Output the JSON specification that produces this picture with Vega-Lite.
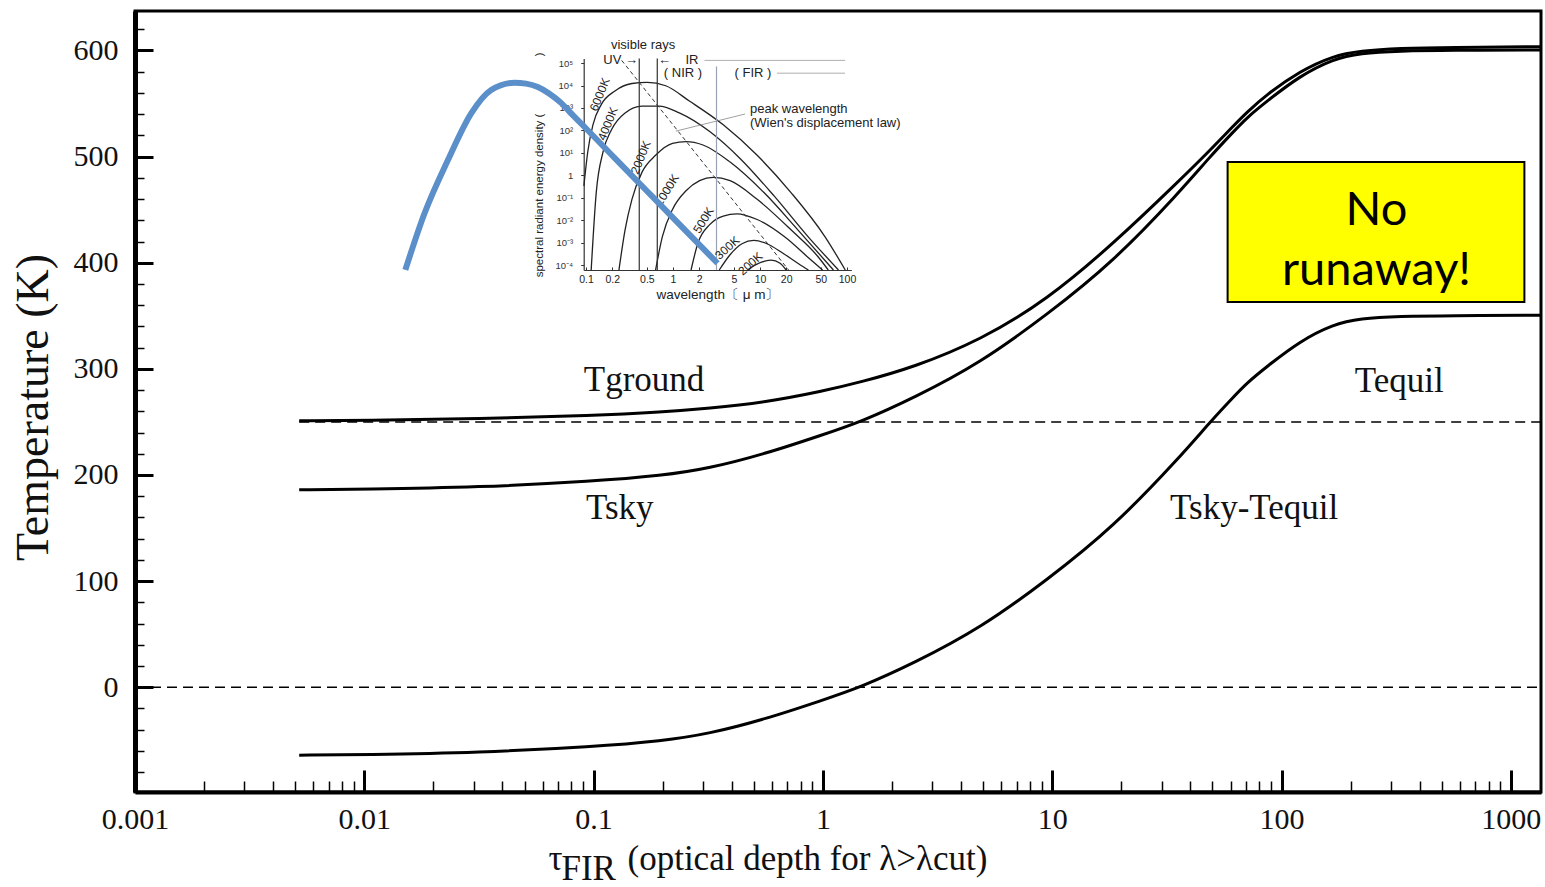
{
  "$schema": "https://vega.github.io/schema/vega-lite/v6.json",
  "width": 1406,
  "height": 781,
  "autosize": {"type": "none"},
  "padding": {"left": 135, "top": 11, "right": 4, "bottom": 95},
  "background": "white",
  "config": {"view": {"stroke": "#000", "strokeWidth": 3}, "axis": {"grid": false}},
  "resolve": {"scale": {"x": "independent", "y": "independent"}, "axis": {"x": "independent", "y": "independent"}},
  "layer": [
    {
      "resolve": {"axis": {"x": "independent", "y": "independent"}},
      "layer": [
        {
          "data": {"values": [
            {"curve":"6000K","lam":0.0945,"v":-0.47},{"curve":"6000K","lam":0.1047,"v":1.05},{"curve":"6000K","lam":0.12,"v":2.25},{"curve":"6000K","lam":0.15,"v":3.16},{"curve":"6000K","lam":0.215,"v":3.76},{"curve":"6000K","lam":0.337,"v":4.09},{"curve":"6000K","lam":0.504,"v":4.14},{"curve":"6000K","lam":0.824,"v":3.99},{"curve":"6000K","lam":1.54,"v":3.31},{"curve":"6000K","lam":3.78,"v":2.25},{"curve":"6000K","lam":9.27,"v":0.89},{"curve":"6000K","lam":22.7,"v":-0.77},{"curve":"6000K","lam":55.7,"v":-2.73},{"curve":"6000K","lam":95.5,"v":-4.22},
            {"curve":"4000K","lam":0.1146,"v":-4.22},{"curve":"4000K","lam":0.131,"v":-0.77},{"curve":"4000K","lam":0.157,"v":1.05},{"curve":"4000K","lam":0.196,"v":2.03},{"curve":"4000K","lam":0.281,"v":2.78},{"curve":"4000K","lam":0.44,"v":3.08},{"curve":"4000K","lam":0.689,"v":3.08},{"curve":"4000K","lam":1.18,"v":2.78},{"curve":"4000K","lam":2.64,"v":1.95},{"curve":"4000K","lam":5.93,"v":0.74},{"curve":"4000K","lam":14.5,"v":-0.92},{"curve":"4000K","lam":35.6,"v":-2.73},{"curve":"4000K","lam":79.8,"v":-4.22},
            {"curve":"2000K","lam":0.239,"v":-4.22},{"curve":"2000K","lam":0.281,"v":-2.43},{"curve":"2000K","lam":0.337,"v":-1.07},{"curve":"2000K","lam":0.44,"v":0.14},{"curve":"2000K","lam":0.63,"v":0.89},{"curve":"2000K","lam":0.986,"v":1.42},{"curve":"2000K","lam":1.41,"v":1.5},{"curve":"2000K","lam":2.21,"v":1.35},{"curve":"2000K","lam":4.53,"v":0.59},{"curve":"2000K","lam":11.1,"v":-0.77},{"curve":"2000K","lam":27.2,"v":-2.43},{"curve":"2000K","lam":69.8,"v":-4.22},
            {"curve":"1000K","lam":0.63,"v":-4.22},{"curve":"1000K","lam":0.754,"v":-2.73},{"curve":"1000K","lam":0.986,"v":-1.52},{"curve":"1000K","lam":1.41,"v":-0.69},{"curve":"1000K","lam":2.02,"v":-0.24},{"curve":"1000K","lam":2.89,"v":-0.09},{"curve":"1000K","lam":4.53,"v":-0.24},{"curve":"1000K","lam":9.27,"v":-1.07},{"curve":"1000K","lam":22.7,"v":-2.43},{"curve":"1000K","lam":46.7,"v":-3.64},{"curve":"1000K","lam":60.9,"v":-4.22},
            {"curve":"500K","lam":1.61,"v":-4.22},{"curve":"500K","lam":1.93,"v":-3.03},{"curve":"500K","lam":2.64,"v":-2.2},{"curve":"500K","lam":3.78,"v":-1.82},{"curve":"500K","lam":5.42,"v":-1.72},{"curve":"500K","lam":9.27,"v":-1.97},{"curve":"500K","lam":19,"v":-2.73},{"curve":"500K","lam":38.9,"v":-3.79},{"curve":"500K","lam":52.4,"v":-4.22},
            {"curve":"300K","lam":3.4,"v":-4.22},{"curve":"300K","lam":4.5,"v":-3.55},{"curve":"300K","lam":6.2,"v":-3.05},{"curve":"300K","lam":8.5,"v":-2.9},{"curve":"300K","lam":12,"v":-3.05},{"curve":"300K","lam":18,"v":-3.45},{"curve":"300K","lam":28,"v":-3.95},{"curve":"300K","lam":36,"v":-4.22},
            {"curve":"200K","lam":7.2,"v":-4.22},{"curve":"200K","lam":9,"v":-3.98},{"curve":"200K","lam":13.4,"v":-3.78},{"curve":"200K","lam":17,"v":-3.92},{"curve":"200K","lam":20,"v":-4.22}
          ]},
          "mark": {"type": "line", "color": "#222", "strokeWidth": 1.3, "interpolate": "monotone"},
          "encoding": {
            "x": {"field": "lam", "type": "quantitative",
              "scale": {"type": "log", "domain": [0.094, 112], "range": [448.7, 716.3], "nice": false},
              "axis": {"orient": "bottom", "offset": -522, "values": [0.1,0.2,0.5,1,2,5,10,20,50,100], "format": "~g",
                "labelFont": "Liberation Sans", "labelFontSize": 10.5, "labelColor": "#222", "labelPadding": 7,
                "labelFlush": false, "labelOverlap": false, "tickSize": -3, "tickColor": "#333", "tickWidth": 1,
                "domainColor": "#333", "domainWidth": 1.2, "grid": false,
                "title": "wavelength〔 μ m〕", "titleFont": "Liberation Sans", "titleFontSize": 13.5, "titleFontWeight": "normal",
                "titleColor": "#222", "titlePadding": 3}},
            "y": {"field": "v", "type": "quantitative",
              "scale": {"domain": [-4.22, 5.2], "range": [259, 47.6], "nice": false, "zero": false},
              "axis": {"orient": "left", "offset": -448.7, "values": [-4,-3,-2,-1,0,1,2,3,4,5],
                "labelExpr": "datum.value == 0 ? '1' : '10' + (datum.value < 0 ? '⁻' : '') + ['⁰','¹','²','³','⁴','⁵'][abs(datum.value)]",
                "labelFont": "Liberation Sans", "labelFontSize": 9.5, "labelColor": "#333", "labelPadding": 8,
                "labelFlush": false, "labelOverlap": false, "tickSize": 3, "tickColor": "#333", "tickWidth": 1,
                "domainColor": "#333", "domainWidth": 1.2, "grid": false,
                "title": "spectral radiant energy density  (\u00a0\u00a0\u00a0\u00a0\u00a0\u00a0\u00a0\u00a0\u00a0\u00a0\u00a0\u00a0\u00a0\u00a0\u00a0\u00a0\u00a0\u00a0)", "titleFont": "Liberation Sans", "titleFontSize": 11.5,
                "titleFontWeight": "normal", "titleColor": "#222", "titlePadding": 11}},
            "detail": {"field": "curve"}
          }
        },
        {
          "data": {"values": [{"lam": 0.257, "v": 5.12}, {"lam": 21.3, "v": -4.22}]},
          "mark": {"type": "line", "color": "#333", "strokeWidth": 1, "strokeDash": [4, 3]},
          "encoding": {
            "x": {"field": "lam", "type": "quantitative", "scale": {"type": "log", "domain": [0.094, 112], "range": [448.7, 716.3], "nice": false}, "axis": null},
            "y": {"field": "v", "type": "quantitative", "scale": {"domain": [-4.22, 5.2], "range": [259, 47.6], "nice": false, "zero": false}, "axis": null}
          }
        },
        {
          "data": {"values": [{"lam": 0.409, "top": 5.2, "bot": -4.22}, {"lam": 0.659, "top": 5.2, "bot": -4.22}]},
          "mark": {"type": "rule", "color": "#333", "strokeWidth": 1.2},
          "encoding": {
            "x": {"field": "lam", "type": "quantitative", "scale": {"type": "log", "domain": [0.094, 112], "range": [448.7, 716.3], "nice": false}, "axis": null},
            "y": {"field": "top", "type": "quantitative", "scale": {"domain": [-4.22, 5.2], "range": [259, 47.6], "nice": false, "zero": false}, "axis": null},
            "y2": {"field": "bot"}
          }
        },
        {
          "data": {"values": [{"lam": 3.16, "top": 4.85, "bot": -4.22}]},
          "mark": {"type": "rule", "color": "#9aa3b5", "strokeWidth": 1.2},
          "encoding": {
            "x": {"field": "lam", "type": "quantitative", "scale": {"type": "log", "domain": [0.094, 112], "range": [448.7, 716.3], "nice": false}, "axis": null},
            "y": {"field": "top", "type": "quantitative", "scale": {"domain": [-4.22, 5.2], "range": [259, 47.6], "nice": false, "zero": false}, "axis": null},
            "y2": {"field": "bot"}
          }
        },
        {
          "data": {"values": [{"from": 2.3, "to": 95, "v": 5.12}, {"from": 15.7, "to": 95, "v": 4.55}]},
          "mark": {"type": "rule", "color": "#999", "strokeWidth": 0.8},
          "encoding": {
            "x": {"field": "from", "type": "quantitative", "scale": {"type": "log", "domain": [0.094, 112], "range": [448.7, 716.3], "nice": false}, "axis": null},
            "x2": {"field": "to"},
            "y": {"field": "v", "type": "quantitative", "scale": {"domain": [-4.22, 5.2], "range": [259, 47.6], "nice": false, "zero": false}, "axis": null}
          }
        },
        {
          "data": {"values": [{"x1": 6.73, "v1": 2.73, "x2": 1.08, "v2": 1.97}]},
          "mark": {"type": "rule", "color": "#888", "strokeWidth": 0.8},
          "encoding": {
            "x": {"field": "x1", "type": "quantitative", "scale": {"type": "log", "domain": [0.094, 112], "range": [448.7, 716.3], "nice": false}, "axis": null},
            "x2": {"field": "x2"},
            "y": {"field": "v1", "type": "quantitative", "scale": {"domain": [-4.22, 5.2], "range": [259, 47.6], "nice": false, "zero": false}, "axis": null},
            "y2": {"field": "v2"}
          }
        },
        {
          "data": {"values": [{"t": "visible rays", "lam": 0.452, "v": 5.8}, {"t": "IR", "lam": 1.65, "v": 5.13}, {"t": "( NIR )", "lam": 1.3, "v": 4.55}, {"t": "( FIR )", "lam": 8.3, "v": 4.55}]},
          "mark": {"type": "text", "font": "Liberation Sans", "fontSize": 13, "color": "#222", "align": "center", "baseline": "middle"},
          "encoding": {
            "x": {"field": "lam", "type": "quantitative", "scale": {"type": "log", "domain": [0.094, 112], "range": [448.7, 716.3], "nice": false}, "axis": null},
            "y": {"field": "v", "type": "quantitative", "scale": {"domain": [-4.22, 5.2], "range": [259, 47.6], "nice": false, "zero": false}, "axis": null},
            "text": {"field": "t"}
          }
        },
        {
          "data": {"values": [{"t": "UV →", "lam": 0.395, "v": 5.13}]},
          "mark": {"type": "text", "font": "Liberation Sans", "fontSize": 13, "color": "#222", "align": "right", "baseline": "middle"},
          "encoding": {
            "x": {"field": "lam", "type": "quantitative", "scale": {"type": "log", "domain": [0.094, 112], "range": [448.7, 716.3], "nice": false}, "axis": null},
            "y": {"field": "v", "type": "quantitative", "scale": {"domain": [-4.22, 5.2], "range": [259, 47.6], "nice": false, "zero": false}, "axis": null},
            "text": {"field": "t"}
          }
        },
        {
          "data": {"values": [{"t": "←", "lam": 0.67, "v": 5.13}, {"t": "peak wavelength", "lam": 7.67, "v": 2.97}, {"t": "(Wien's displacement law)", "lam": 7.67, "v": 2.33}]},
          "mark": {"type": "text", "font": "Liberation Sans", "fontSize": 13, "color": "#222", "align": "left", "baseline": "middle"},
          "encoding": {
            "x": {"field": "lam", "type": "quantitative", "scale": {"type": "log", "domain": [0.094, 112], "range": [448.7, 716.3], "nice": false}, "axis": null},
            "y": {"field": "v", "type": "quantitative", "scale": {"domain": [-4.22, 5.2], "range": [259, 47.6], "nice": false, "zero": false}, "axis": null},
            "text": {"field": "t"}
          }
        },
        {
          "data": {"values": [{"t": "6000K", "lam": 0.144, "v": 3.6}, {"t": "4000K", "lam": 0.178, "v": 2.3}, {"t": "2000K", "lam": 0.425, "v": 0.8}]},
          "mark": {"type": "text", "font": "Liberation Sans", "fontSize": 12, "color": "#222", "align": "center", "baseline": "middle", "angle": -68},
          "encoding": {
            "x": {"field": "lam", "type": "quantitative", "scale": {"type": "log", "domain": [0.094, 112], "range": [448.7, 716.3], "nice": false}, "axis": null},
            "y": {"field": "v", "type": "quantitative", "scale": {"domain": [-4.22, 5.2], "range": [259, 47.6], "nice": false, "zero": false}, "axis": null},
            "text": {"field": "t"}
          }
        },
        {
          "data": {"values": [{"t": "1000K", "lam": 0.85, "v": -0.66}, {"t": "500K", "lam": 2.24, "v": -2.0}]},
          "mark": {"type": "text", "font": "Liberation Sans", "fontSize": 12, "color": "#222", "align": "center", "baseline": "middle", "angle": -58},
          "encoding": {
            "x": {"field": "lam", "type": "quantitative", "scale": {"type": "log", "domain": [0.094, 112], "range": [448.7, 716.3], "nice": false}, "axis": null},
            "y": {"field": "v", "type": "quantitative", "scale": {"domain": [-4.22, 5.2], "range": [259, 47.6], "nice": false, "zero": false}, "axis": null},
            "text": {"field": "t"}
          }
        },
        {
          "data": {"values": [{"t": "300K", "lam": 4.21, "v": -3.23}, {"t": "200K", "lam": 7.76, "v": -3.94}]},
          "mark": {"type": "text", "font": "Liberation Sans", "fontSize": 12, "color": "#222", "align": "center", "baseline": "middle", "angle": -42},
          "encoding": {
            "x": {"field": "lam", "type": "quantitative", "scale": {"type": "log", "domain": [0.094, 112], "range": [448.7, 716.3], "nice": false}, "axis": null},
            "y": {"field": "v", "type": "quantitative", "scale": {"domain": [-4.22, 5.2], "range": [259, 47.6], "nice": false, "zero": false}, "axis": null},
            "text": {"field": "t"}
          }
        }
      ]
    },
    {
      "resolve": {"axis": {"x": "independent", "y": "independent"}},
      "layer": [
        {
          "data": {"values": [{"x1": 0.0052, "x2": 1354, "T": 250}, {"x1": 0.001, "x2": 1354, "T": 0}]},
          "mark": {"type": "rule", "color": "#000", "strokeWidth": 1.6, "strokeDash": [10, 6]},
          "encoding": {
            "x": {"field": "x1", "type": "quantitative",
              "scale": {"type": "log", "domain": [0.001, 1354], "nice": false},
              "axis": {"orient": "bottom", "values": [0.002,0.003,0.004,0.005,0.006,0.007,0.008,0.009,0.02,0.03,0.04,0.05,0.06,0.07,0.08,0.09,0.2,0.3,0.4,0.5,0.6,0.7,0.8,0.9,2,3,4,5,6,7,8,9,20,30,40,50,60,70,80,90,200,300,400,500,600,700,800,900],
                "labels": false, "domain": false, "grid": false, "tickSize": -11, "tickWidth": 1.5, "tickColor": "#000",
                "title": "τ", "titleFont": "Liberation Serif", "titleFontSize": 35, "titleFontWeight": "normal", "titleColor": "#111",
                "titleX": 413, "titleY": 77, "titleAlign": "left", "titleBaseline": "alphabetic"}},
            "x2": {"field": "x2"},
            "y": {"field": "T", "type": "quantitative",
              "scale": {"domain": [-98.7, 637.2], "nice": false, "zero": false},
              "axis": {"orient": "left", "values": [-80,-60,-40,-20,20,40,60,80,120,140,160,180,220,240,260,280,320,340,360,380,420,440,460,480,520,540,560,580,620],
                "labels": false, "domain": false, "grid": false, "tickSize": -9, "tickWidth": 1.5, "tickColor": "#000", "title": null}}
          }
        },
        {
          "data": {"values": [
            {"series":"Tground","tau":0.0052,"T":251},{"series":"Tground","tau":0.01,"T":251.5},{"series":"Tground","tau":0.0316,"T":252.8},{"series":"Tground","tau":0.1,"T":256},{"series":"Tground","tau":0.2,"T":259.5},{"series":"Tground","tau":0.316,"T":262.8},{"series":"Tground","tau":0.562,"T":268.5},{"series":"Tground","tau":1.0,"T":279},{"series":"Tground","tau":1.46,"T":287.5},{"series":"Tground","tau":2.49,"T":301.5},{"series":"Tground","tau":4.86,"T":327},{"series":"Tground","tau":9.49,"T":365},{"series":"Tground","tau":18.5,"T":418},{"series":"Tground","tau":36.1,"T":478},{"series":"Tground","tau":48.8,"T":506},{"series":"Tground","tau":61.4,"T":528.5},{"series":"Tground","tau":70.4,"T":541.5},{"series":"Tground","tau":86.1,"T":558.5},{"series":"Tground","tau":120,"T":580.5},{"series":"Tground","tau":168,"T":595},{"series":"Tground","tau":220,"T":599.5},{"series":"Tground","tau":328,"T":602},{"series":"Tground","tau":542,"T":603},{"series":"Tground","tau":1354,"T":603.5},
            {"series":"Tsky","tau":0.0052,"T":186},{"series":"Tsky","tau":0.01,"T":186.5},{"series":"Tsky","tau":0.0316,"T":188.5},{"series":"Tsky","tau":0.1,"T":194},{"series":"Tsky","tau":0.2,"T":199.5},{"series":"Tsky","tau":0.316,"T":206},{"series":"Tsky","tau":0.562,"T":220},{"series":"Tsky","tau":1.0,"T":238},{"series":"Tsky","tau":1.46,"T":250},{"series":"Tsky","tau":2.49,"T":272.6},{"series":"Tsky","tau":4.86,"T":305.6},{"series":"Tsky","tau":9.49,"T":351},{"series":"Tsky","tau":18.5,"T":401},{"series":"Tsky","tau":36.1,"T":467},{"series":"Tsky","tau":48.8,"T":500},{"series":"Tsky","tau":61.4,"T":523},{"series":"Tsky","tau":70.4,"T":536.5},{"series":"Tsky","tau":86.1,"T":552},{"series":"Tsky","tau":120,"T":576},{"series":"Tsky","tau":168,"T":592},{"series":"Tsky","tau":220,"T":597.5},{"series":"Tsky","tau":328,"T":599.5},{"series":"Tsky","tau":542,"T":600.2},{"series":"Tsky","tau":1354,"T":600.5},
            {"series":"Tsky-Tequil","tau":0.0052,"T":-64},{"series":"Tsky-Tequil","tau":0.01,"T":-63.5},{"series":"Tsky-Tequil","tau":0.0316,"T":-61.5},{"series":"Tsky-Tequil","tau":0.1,"T":-56},{"series":"Tsky-Tequil","tau":0.2,"T":-50.5},{"series":"Tsky-Tequil","tau":0.316,"T":-44},{"series":"Tsky-Tequil","tau":0.562,"T":-30},{"series":"Tsky-Tequil","tau":1.0,"T":-12},{"series":"Tsky-Tequil","tau":1.46,"T":0},{"series":"Tsky-Tequil","tau":2.49,"T":22.6},{"series":"Tsky-Tequil","tau":4.86,"T":55.6},{"series":"Tsky-Tequil","tau":9.49,"T":101},{"series":"Tsky-Tequil","tau":18.5,"T":151},{"series":"Tsky-Tequil","tau":36.1,"T":217},{"series":"Tsky-Tequil","tau":48.8,"T":250},{"series":"Tsky-Tequil","tau":61.4,"T":273},{"series":"Tsky-Tequil","tau":70.4,"T":286.5},{"series":"Tsky-Tequil","tau":86.1,"T":302},{"series":"Tsky-Tequil","tau":120,"T":326},{"series":"Tsky-Tequil","tau":168,"T":342},{"series":"Tsky-Tequil","tau":220,"T":347.5},{"series":"Tsky-Tequil","tau":328,"T":349.5},{"series":"Tsky-Tequil","tau":542,"T":350.2},{"series":"Tsky-Tequil","tau":1354,"T":350.5}
          ]},
          "mark": {"type": "line", "color": "#000", "strokeWidth": 3, "interpolate": "basis"},
          "encoding": {
            "x": {"field": "tau", "type": "quantitative",
              "scale": {"type": "log", "domain": [0.001, 1354], "nice": false},
              "axis": {"orient": "bottom", "values": [0.001, 0.01, 0.1, 1, 10, 100, 1000], "format": "~g",
                "labelFont": "Liberation Serif", "labelFontSize": 30, "labelColor": "#111", "labelPadding": 34,
                "labelFlush": false, "labelOverlap": false, "labelBound": false,
                "tickSize": -22, "tickWidth": 3, "tickColor": "#000", "domainColor": "#000", "domainWidth": 4, "grid": false,
                "title": "(optical depth for λ>λcut)", "titleFont": "Liberation Serif", "titleFontSize": 35, "titleFontWeight": "normal",
                "titleColor": "#111", "titleX": 492, "titleY": 77, "titleAlign": "left", "titleBaseline": "alphabetic"}},
            "y": {"field": "T", "type": "quantitative",
              "scale": {"domain": [-98.7, 637.2], "nice": false, "zero": false},
              "axis": {"orient": "left", "values": [0, 100, 200, 300, 400, 500, 600],
                "labelFont": "Liberation Serif", "labelFontSize": 30, "labelColor": "#111", "labelPadding": 35,
                "labelFlush": false, "labelOverlap": false, "labelBound": false,
                "tickSize": -18, "tickWidth": 3, "tickColor": "#000", "domainColor": "#000", "domainWidth": 5, "grid": false,
                "title": "Temperature (K)", "titleFont": "Liberation Serif", "titleFontSize": 46, "titleFontWeight": "normal",
                "titleColor": "#111", "titleAngle": -90, "titleX": -88, "titleY": 396, "titleAlign": "center", "titleBaseline": "alphabetic"}},
            "detail": {"field": "series"}
          }
        },
        {
          "data": {"values": [{"label": "Tground", "tau": 0.166, "T": 279}, {"label": "Tsky", "tau": 0.13, "T": 158.5}, {"label": "Tequil", "tau": 326, "T": 278}, {"label": "Tsky-Tequil", "tau": 76, "T": 159}]},
          "mark": {"type": "text", "font": "Liberation Serif", "fontSize": 35, "color": "#111", "align": "center", "baseline": "alphabetic"},
          "encoding": {
            "x": {"field": "tau", "type": "quantitative", "axis": null},
            "y": {"field": "T", "type": "quantitative", "axis": null},
            "text": {"field": "label"}
          }
        },
        {
          "data": {"values": [{"x1": 58.2, "x2": 1146, "y1": 363, "y2": 495}]},
          "mark": {"type": "rect", "fill": "#FFFF00", "stroke": "#000", "strokeWidth": 2},
          "encoding": {
            "x": {"field": "x1", "type": "quantitative", "axis": null},
            "x2": {"field": "x2"},
            "y": {"field": "y1", "type": "quantitative", "axis": null},
            "y2": {"field": "y2"}
          }
        },
        {
          "data": {"values": [{"t": "No", "tau": 259.5, "T": 436}, {"t": "runaway!", "tau": 259.5, "T": 379}]},
          "mark": {"type": "text", "font": "Lato", "fontSize": 47, "color": "#000", "align": "center", "baseline": "alphabetic"},
          "encoding": {
            "x": {"field": "tau", "type": "quantitative", "axis": null},
            "y": {"field": "T", "type": "quantitative", "axis": null},
            "text": {"field": "t"}
          }
        },
        {
          "data": {"values": [
            {"tau": 0.0151, "T": 393.3}, {"tau": 0.01831, "T": 446.6}, {"tau": 0.02316, "T": 496.8}, {"tau": 0.02926, "T": 540.8},
            {"tau": 0.03575, "T": 562.8}, {"tau": 0.04515, "T": 569.7}, {"tau": 0.05076, "T": 568.8}, {"tau": 0.05709, "T": 565.6},
            {"tau": 0.06394, "T": 559.5}, {"tau": 0.07213, "T": 550.6}, {"tau": 0.08135, "T": 538.8}, {"tau": 0.09266, "T": 526.5},
            {"tau": 0.1231, "T": 499.0}, {"tau": 0.172, "T": 466.9}, {"tau": 0.2403, "T": 434.8}, {"tau": 0.347, "T": 399.5}
          ]},
          "mark": {"type": "line", "color": "#5B8FC9", "strokeWidth": 6, "interpolate": "monotone", "strokeCap": "butt"},
          "encoding": {
            "x": {"field": "tau", "type": "quantitative",
              "axis": {"orient": "bottom", "labels": false, "ticks": false, "domain": false, "grid": false,
                "title": "FIR", "titleFont": "Liberation Serif", "titleFontSize": 35, "titleFontWeight": "normal", "titleColor": "#111",
                "titleX": 426, "titleY": 87, "titleAlign": "left", "titleBaseline": "alphabetic"}},
            "y": {"field": "T", "type": "quantitative", "axis": null}
          }
        }
      ]
    }
  ]
}
